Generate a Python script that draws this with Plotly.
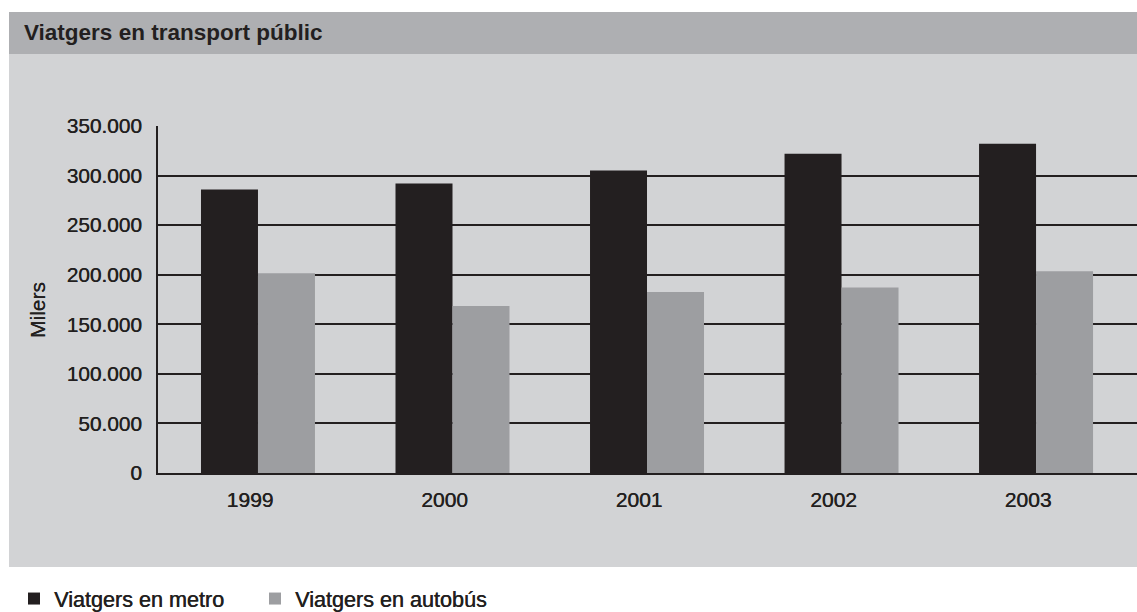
import plotly.graph_objects as go

years = ["1999", "2000", "2001", "2002", "2003"]
metro = [286000, 292000, 305000, 322000, 332000]
autobus = [201500, 168500, 182500, 187000, 203500]
series_names = ["Viatgers en metro", "Viatgers en autobús"]
y_ticks = [0, 50000, 100000, 150000, 200000, 250000, 300000, 350000]

DARK = "#231f20"
BUS = "#9d9ea1"
PANEL = "#d2d3d5"
BAR_T = "#aeafb2"
FONT = "Liberation Sans, Arial, sans-serif"
MED = "0.4px 0px 0px #231f20"  # emulate a medium weight

W, H = 1137, 612
L, R = 158, 0
T = 126
B = H - 473

def px_x(x):
    return (x - L) / (W - L - R)

def px_y(y):
    return (H - B - y) / (H - B - T)

fig = go.Figure()
fig.add_trace(go.Bar(x=years, y=metro, name=series_names[0], marker=dict(color=DARK, line=dict(width=0))))
fig.add_trace(go.Bar(x=years, y=autobus, name=series_names[1], marker=dict(color=BUS, line=dict(width=0))))

shapes = [
    dict(type="rect", xref="paper", yref="paper", x0=px_x(9), x1=px_x(1150), y0=px_y(54), y1=px_y(12),
         fillcolor=BAR_T, line=dict(width=0), layer="below"),
    dict(type="rect", xref="paper", yref="paper", x0=px_x(9), x1=px_x(1150), y0=px_y(567), y1=px_y(54),
         fillcolor=PANEL, line=dict(width=0), layer="below"),
]

annotations = [
    dict(text="<b>Viatgers en transport públic</b>", xref="paper", yref="paper", x=px_x(22), y=px_y(33),
         xanchor="left", yanchor="middle", showarrow=False, font=dict(family=FONT, size=22.5, color=DARK)),
    dict(text="Milers", xref="paper", yref="paper", x=px_x(37), y=px_y(310), textangle=-90,
         xanchor="center", yanchor="middle", showarrow=False,
         font=dict(family=FONT, size=21, color=DARK, shadow="0px 0.4px 0px #231f20")),
]

fig.update_layout(
    width=W, height=H,
    margin=dict(l=L, r=R, t=T, b=B, pad=0, autoexpand=False),
    paper_bgcolor="white", plot_bgcolor=PANEL,
    barmode="group", bargap=0.414, bargroupgap=0,
    separators=",.",
    font=dict(family=FONT, size=21, color=DARK),
    shapes=shapes, annotations=annotations,
    showlegend=True,
    legend=dict(orientation="h", x=px_x(14), y=px_y(599), xanchor="left", yanchor="middle",
                bgcolor="rgba(0,0,0,0)", font=dict(family=FONT, size=21.6, color=DARK, shadow=MED),
                entrywidth=196, entrywidthmode="pixels", itemclick=False, tracegroupgap=0),
)
fig.update_xaxes(range=[-0.514, 4.519], showline=True, linecolor=DARK, linewidth=2,
                 showgrid=False, ticks="", ticklabelstandoff=7, ticklabelshift=-8,
                 tickfont=dict(family=FONT, size=21, color=DARK, shadow=MED), fixedrange=True)
fig.update_yaxes(range=[0, 350000], tickvals=y_ticks, tickformat=",d", showline=True, linecolor=DARK,
                 linewidth=2, showgrid=True, gridcolor=DARK, gridwidth=2, zeroline=False,
                 ticks="", ticklabelstandoff=10, tickfont=dict(family=FONT, size=20.8, color=DARK, shadow=MED),
                 fixedrange=True)

fig.write_html("out.html", config={"displayModeBar": False},
               post_script="document.body.style.margin='0px';document.body.style.overflow='hidden';")
